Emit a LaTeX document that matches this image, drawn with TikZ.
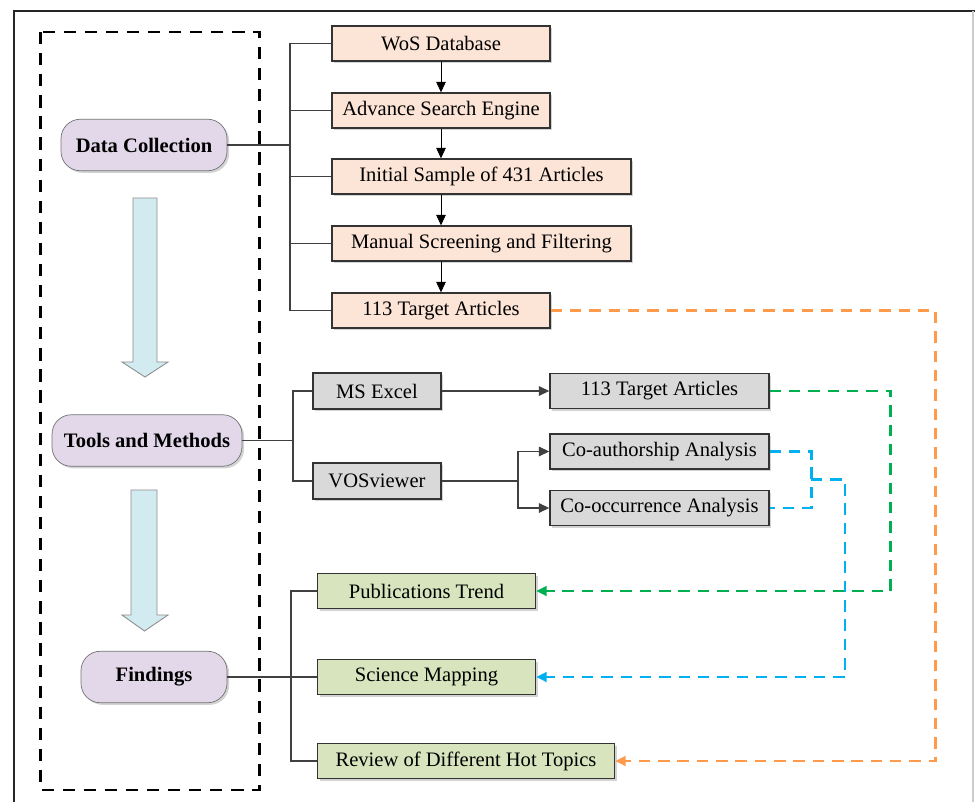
\documentclass[tikz,border=0pt]{standalone}
\usepackage{fontspec}
\setmainfont{Liberation Serif}
\usetikzlibrary{arrows.meta, shadows}

\definecolor{peach}{HTML}{FCE4D6}
\definecolor{boxgray}{HTML}{D9D9D9}
\definecolor{sage}{HTML}{D7E4BD}
\definecolor{lilac}{HTML}{E2D8E9}
\definecolor{icecyan}{HTML}{D2EBF1}
\definecolor{dashorange}{HTML}{FF9A4A}
\definecolor{dashgreen}{HTML}{00B050}
\definecolor{dashblue}{HTML}{00B0F0}

\tikzset{
  box/.style={rectangle, draw=black!80, line width=0.8pt, minimum height=0.7cm,
    inner sep=2pt, font=\fontsize{11.7}{13}\selectfont,
    drop shadow={shadow xshift=1.2pt, shadow yshift=-1.2pt, opacity=0.35}},
  collectbox/.style={box, fill=peach, minimum width=4.36cm},
  toolbox/.style={box, fill=boxgray, minimum width=4.38cm},
  findbox/.style={box, fill=sage, minimum width=4.36cm},
  stage/.style={rectangle, rounded corners=11pt, draw=black!55, fill=lilac,
    minimum height=1.03cm, font=\fontsize{11.7}{13}\selectfont\bfseries,
    drop shadow={shadow xshift=1.2pt, shadow yshift=-1.2pt, opacity=0.35}},
  bus/.style={draw=black!75, line width=0.6pt},
  link/.style={line width=1.5pt, dash pattern=on 6.5pt off 4.5pt}
}

\begin{document}
\begin{tikzpicture}[x=0.02cm, y=-0.02cm, >={Triangle[length=6pt, width=5.5pt]}]

    \useasboundingbox (0,0) rectangle (975,802);

    % Draw the frame.
    \draw[black!85, line width=1.4pt] (14,802) -- (14,11) -- (975,11);
    \draw[black!20, line width=0.8pt] (973,11) -- (973,802);

    % Draw the stage column.
    \draw[line width=1.2pt, dash pattern=on 7pt off 5pt] (40.5,32) rectangle (259.5,790);
    \node[stage, minimum width=3.32cm] (collect) at (144,145) {Data Collection};
    \node[stage, minimum width=3.8cm] (tools) at (147,440.5) {Tools and Methods};
    \node[stage, minimum width=2.92cm] (find) at (154,677) {Findings};

    % Draw the big arrows.
    \draw[black!45, fill=icecyan, line width=0.5pt]
      (133,198) -- (157,198) -- (157,362) -- (168,362) -- (145,377)
      -- (122,362) -- (133,362) -- cycle;
    \draw[black!45, fill=icecyan, line width=0.5pt]
      (131,490) -- (157,490) -- (157,615) -- (168,615) -- (144.5,631)
      -- (122,615) -- (131,615) -- cycle;

    % Draw the data collection steps.
    \node[collectbox] (wos) at (441,43.5) {WoS Database};
    \node[collectbox] (adv) at (441,110.5) {Advance Search Engine};
    \node[collectbox, minimum width=5.98cm] (init) at (481.5,176.5) {Initial Sample of 431 Articles};
    \node[collectbox, minimum width=5.98cm] (screen) at (481.5,243.5) {Manual Screening and Filtering};
    \node[collectbox] (target) at (441,310.5) {113 Target Articles};

    % Draw the tools.
    \node[box, fill=boxgray, minimum width=2.56cm, minimum height=0.72cm] (excel) at (377,391) {MS Excel};
    \node[box, fill=boxgray, minimum width=2.56cm, minimum height=0.72cm] (vos) at (377,481) {VOSviewer};
    \node[toolbox] (tgt_a) at (659.5,391) {113 Target Articles};
    \node[toolbox] (coauth) at (659.5,451.5) {Co-authorship Analysis};
    \node[toolbox] (cooc) at (659.5,508) {Co-occurrence Analysis};

    % Draw the findings.
    \node[findbox] (trend) at (426.5,591) {Publications Trend};
    \node[findbox] (mapping) at (426.5,677) {Science Mapping};
    \node[findbox, minimum width=5.94cm] (review) at (466,761) {Review of Different Hot Topics};

    % Draw the lines.
    % Data collection bus.
    \coordinate (bus_dc) at (290,0);
    \draw[bus] (collect.east) -- (collect.east -| bus_dc);
    \draw[bus] (wos.west) -| (bus_dc |- target) -- (target.west);
    \foreach \n in {adv, init, screen}
      \draw[bus] (\n.west) -- (\n.west -| bus_dc);
    % Steps.
    \draw[->] (wos.south) -- (adv.north);
    \draw[->] (adv.south) -- (adv.south |- init.north);
    \draw[->] (adv.south |- init.south) -- (adv.south |- screen.north);
    \draw[->] (adv.south |- screen.south) -- (target.north);
    % Tools bus.
    \coordinate (bus_tm) at (293,0);
    \draw[bus] (tools.east) -- (tools.east -| bus_tm);
    \draw[bus] (excel.west) -| (bus_tm |- vos) -- (vos.west);
    \draw[bus, ->] (excel.east) -- (tgt_a.west);
    \coordinate (split) at (518,481);
    \draw[bus] (vos.east) -- (split);
    \draw[bus, ->] (split) |- (coauth.west);
    \draw[bus, ->] (split) |- (cooc.west);
    % Findings bus.
    \coordinate (bus_fi) at (291,0);
    \draw[bus] (find.east) -- (mapping.west);
    \draw[bus] (trend.west) -| (bus_fi |- review) -- (review.west);

    % Dashed links.
    \draw[link, dashorange, ->] (target.east) -- ++(385,0) |- (review.east);
    \draw[link, dashgreen, ->] (tgt_a.east) -- ++(121,0) |- (trend.east);
    \draw[link, dashblue] (coauth.east) -- ++(42,0) |- (cooc.east);
    \coordinate (blue_mid) at (811,479.5);
    \draw[link, dashblue, ->] (blue_mid) -- ++(34,0) |- (mapping.east);
  \end{tikzpicture}
\end{document}
